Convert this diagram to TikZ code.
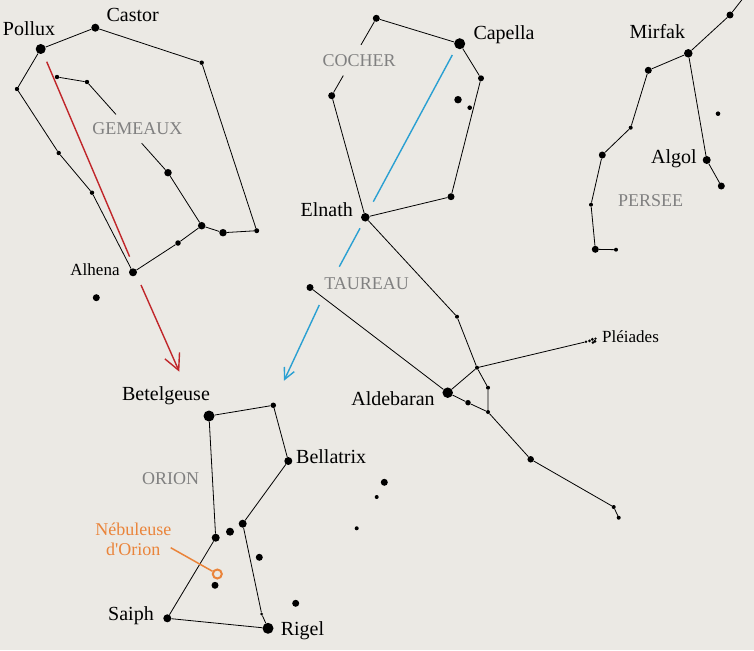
\documentclass[tikz,border=0pt]{standalone}
\usepackage{fontspec}
\setmainfont{Liberation Serif}[Ligatures=TeXOff]
\usetikzlibrary{calc,arrows.meta}
\definecolor{bg}{RGB}{235,233,228}
\definecolor{lblgray}{RGB}{128,128,128}
\definecolor{arrred}{RGB}{192,38,42}
\definecolor{arrblue}{RGB}{42,160,210}
\definecolor{nebor}{RGB}{234,132,58}
\begin{document}
\begin{tikzpicture}[x=1pt,y=-1pt,
  stardot/.style={circle,fill=black,inner sep=0pt,minimum size=#1},
  stardot/.default=4.4pt,
  link/.style={black,line width=0.8pt},
  starname/.style={font=\fontsize{20}{24}\selectfont,text=black,inner sep=0pt},
  smallname/.style={font=\fontsize{17}{20}\selectfont,text=black,inner sep=0pt},
  constname/.style={font=\fontsize{18}{22}\selectfont,text=lblgray,inner sep=0pt},
  nebname/.style={font=\fontsize{18}{22}\selectfont,text=nebor,inner sep=0pt},
  movearrow/.style={line width=1.4pt,-{Straight Barb[length=#1,width=#1]}},
]
\fill[bg] (0,0) rectangle (754,650);
\useasboundingbox (0,0) rectangle (754,650);

% ---------------- GEMEAUX ----------------
\node[stardot=10pt] (pollux) at (40.7,49) {};
\node[stardot=8pt] (castor) at (95.3,27.7) {};
\node[stardot] (g1) at (201.7,62.7) {};
\node[stardot] (g2) at (17,89) {};
\node[stardot] (g3) at (57,77) {};
\node[stardot] (g4) at (87,82) {};
\node[stardot=7.5pt] (g5) at (168,172.7) {};
\node[stardot] (g6) at (58.7,153) {};
\node[stardot] (g7) at (92,192.7) {};
\node[stardot=7.5pt] (g8) at (201.7,225.7) {};
\node[stardot=7.5pt] (g9) at (223,232.7) {};
\node[stardot=5pt] (g10) at (256.7,230.7) {};
\node[stardot=5.5pt] (g11) at (178,243) {};
\node[stardot=8pt] (alhena) at (133,272.3) {};
\node[stardot=7pt] (g12) at (96.3,297.7) {};

\draw[link] (pollux) -- (castor) -- (g1) -- (g10) -- (g9) -- (g8) -- (g5);
\draw[link] (g5) -- ($(g4)!0.675!(g5)$);
\draw[link] ($(g4)!0.358!(g5)$) -- (g4) -- (g3);
\draw[link] (g8) -- (g11) -- (alhena) -- (g7) -- (g6) -- (g2) -- (pollux);

\node[starname,anchor=base] (lpollux) at (29,36) {Pollux};
\node[starname,anchor=base] (lcastor) at (132.7,21.7) {Castor};
\node[smallname,anchor=base] (lalhena) at (95,275) {Alhena};
\node[constname,anchor=base] (lgem) at (137.3,134.3) {GEMEAUX};

% ---------------- COCHER ----------------
\node[stardot=7pt] (c1) at (376.3,18.3) {};
\node[stardot=11pt] (capella) at (459.7,43.7) {};
\node[stardot=6pt] (c2) at (481,78.3) {};
\node[stardot=7.5pt] (c3) at (458,99.7) {};
\node[stardot=4.6pt] (c4) at (469.7,107.7) {};
\node[stardot=7pt] (c5) at (451,196.7) {};
\node[stardot=8.5pt] (elnath) at (365.3,217.3) {};
\node[stardot=7pt] (c6) at (331.7,95.7) {};

\draw[link] (c1) -- (capella) -- (c2) -- (c5) -- (elnath) -- (c6) -- ($(c6)!0.26!(c1)$);
\draw[link] ($(c6)!0.657!(c1)$) -- (c1);

\node[constname,anchor=base] (lcocher) at (359,66.7) {COCHER};
\node[starname,anchor=base west] (lcapella) at (473.3,39.3) {Capella};
\node[starname,anchor=base] (lelnath) at (326.7,216.7) {Elnath};

% ---------------- TAUREAU ----------------
\node[stardot=7pt] (t1) at (310,287.5) {};
\node[stardot=4pt] (t2) at (457,316.7) {};
\node[stardot=4pt] (t3) at (477,367.7) {};
\node[stardot=10.5pt] (aldebaran) at (447.7,392.7) {};
\node[stardot=4pt] (t4) at (488,387.7) {};
\node[stardot=5.5pt] (t5) at (468,402.7) {};
\node[stardot=4pt] (t6) at (488,412) {};
\node[stardot=6.5pt] (t7) at (530.7,459.3) {};
\node[stardot=4pt] (t8) at (613.7,507) {};
\node[stardot=4pt] (t9) at (618.7,517.7) {};
\node[stardot=2.8pt] (pl1) at (586,341.8) {};
\node[stardot=3pt] (pl2) at (589.5,340.8) {};
\node[stardot=3.2pt] (pl3) at (592.3,339.3) {};
\node[stardot=3.4pt] (pl4) at (594.8,341.3) {};
\node[stardot=2.8pt] (pl5) at (592.8,342.6) {};
\node[stardot=2.6pt] (pl6) at (595.5,338.6) {};

\draw[link] (elnath) -- (t2) -- (t3) -- (t4) -- (t6) -- (t7) -- (t8) -- (t9);
\draw[link] (t3) -- (pl1);
\draw[link] (t3) -- (aldebaran) -- (t5) -- (t6);
\draw[link] (t1) -- (aldebaran);

\node[constname,anchor=base] (ltaur) at (366.7,289.3) {TAUREAU};
\node[starname,anchor=base] (lalde) at (393,405.7) {Aldebaran};
\node[smallname,anchor=base west] (lpleiades) at (602,342.3) {Pléiades};

% ---------------- PERSEE ----------------
\coordinate (ptop) at (741.7,0);
\node[stardot=7pt] (p1) at (730,15) {};
\node[stardot=8.5pt] (mirfak) at (688.3,53.3) {};
\node[stardot=7pt] (p2) at (648.3,70.3) {};
\node[stardot=4pt] (p3) at (630.7,127.7) {};
\node[stardot=7pt] (p4) at (602.3,155) {};
\node[stardot=4pt] (p5) at (591,204.7) {};
\node[stardot=7pt] (p6) at (595.3,249.3) {};
\node[stardot=4pt] (p7) at (616,249.7) {};
\node[stardot=8pt] (algol) at (706.7,160) {};
\node[stardot=7pt] (p8) at (721.3,186) {};
\node[stardot=4.6pt] (p9) at (718,113.7) {};

\draw[link] (ptop) -- (p1) -- (mirfak) -- (p2) -- (p3) -- (p4) -- (p5) -- (p6) -- (p7);
\draw[link] (mirfak) -- (algol) -- (p8);

\node[starname,anchor=base] (lmirfak) at (657.3,39) {Mirfak};
\node[starname,anchor=base] (lalgol) at (674,163.3) {Algol};
\node[constname,anchor=base] (lpersee) at (650.7,206.7) {PERSEE};

% ---------------- ORION ----------------
\node[stardot=11pt] (betel) at (209,416) {};
\node[stardot=5.5pt] (o1) at (273.3,405.3) {};
\node[stardot=8pt] (bella) at (288.3,461) {};
\node[stardot=8pt] (o2) at (242.7,523.7) {};
\node[stardot=8pt] (o3) at (215.7,537.7) {};
\node[stardot=8pt] (o4) at (230,531.7) {};
\node[stardot=7pt] (o5) at (259.3,557.3) {};
\node[stardot=7pt] (o6) at (215,585.3) {};
\node[stardot=8pt] (saiph) at (167.3,618.3) {};
\node[stardot=11pt] (rigel) at (268,628.3) {};
\node[stardot=3pt] (o7) at (261.7,614) {};
\node[stardot=7pt] (o8) at (295.7,603.3) {};
\node[stardot=7pt] (x1) at (384.3,482.3) {};
\node[stardot=4pt] (x2) at (376.7,497) {};
\node[stardot=4pt] (x3) at (356.7,528.3) {};
\node[circle,draw=nebor,line width=2pt,inner sep=0pt,minimum size=9pt] (neb) at (217.3,574) {};

\draw[link] (betel) -- (o1) -- (bella) -- (o2) -- (o7) -- (rigel) -- (saiph) -- (o3) -- (betel);

\node[starname,anchor=base] (lbetel) at (166,400.7) {Betelgeuse};
\node[starname,anchor=base west] (lbella) at (296,463.3) {Bellatrix};
\node[constname,anchor=base] (lorion) at (170.7,484.3) {ORION};
\node[nebname,anchor=base] (lneb1) at (133.3,535.7) {Nébuleuse};
\node[nebname,anchor=base] (lneb2) at (133.3,555.7) {d'Orion};
\node[starname,anchor=base] (lsaiph) at (131,620) {Saiph};
\node[starname,anchor=base] (lrigel) at (302.5,635) {Rigel};
\coordinate (nebtail) at (170.7,547.7);
\draw[nebor,line width=1.5pt] (nebtail) -- (neb);

% ---------------- Arrows ----------------
\coordinate (ra1) at (46.7,61.7);
\coordinate (ra2) at (129.6,256.7);
\coordinate (ra3) at (141,285);
\coordinate (ra4) at (179.3,371.7);
\draw[arrred,line width=1.4pt] (ra1) -- (ra2);
\draw[arrred,movearrow=16pt] (ra3) -- (ra4);

\coordinate (ba1) at (452.3,55);
\coordinate (ba2) at (373.3,201.7);
\coordinate (ba3) at (360,228.3);
\coordinate (ba4) at (339.3,266.7);
\coordinate (ba5) at (319.3,305);
\coordinate (ba6) at (284,380.7);
\draw[arrblue,line width=1.4pt] (ba1) -- (ba2);
\draw[arrblue,line width=1.4pt] (ba3) -- (ba4);
\draw[arrblue,movearrow=11pt] (ba5) -- (ba6);
\end{tikzpicture}
\end{document}
